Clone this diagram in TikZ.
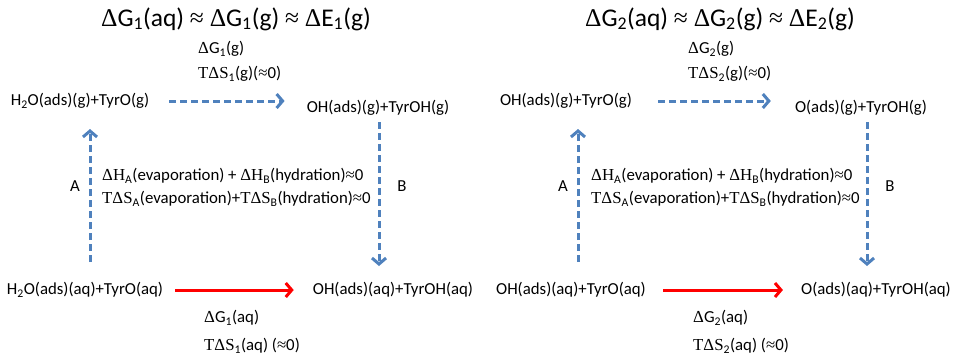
\documentclass[tikz,border=0pt]{standalone}
\usepackage{fontspec}
\setmainfont{Carlito}
\newfontfamily\serf{Liberation Serif}
\usetikzlibrary{arrows.meta}
\newcommand{\Dl}{{\serf Δ}}
\newcommand{\apx}{{\serf ≈}}
\newcommand{\sbs}[1]{\textsubscript{#1}}
\definecolor{myblue}{RGB}{79,129,189}
\tikzset{
  txt/.style={inner sep=0pt, font=\fontsize{16.8}{19}\selectfont},
  ttl/.style={inner sep=0pt, font=\fontsize{25.5}{30}\selectfont},
  gasarrow/.style={draw=myblue, line width=3pt, dash pattern=on 7pt off 4pt, -{Straight Barb[length=6pt,width=14pt]}},
  aqarrow/.style={draw=red, line width=3pt, -{Straight Barb[length=6pt,width=14pt]}}
}
\begin{document}
\begin{tikzpicture}[x=1pt,y=-1pt]
\useasboundingbox (0,0) rectangle (960,360);
% ---------- left panel ----------
\node[ttl] (t1) at (236,19) {\Dl G\sbs{1}(aq) \apx{} \Dl G\sbs{1}(g) \apx{} \Dl E\sbs{1}(g)};
\node[txt,anchor=west] (g1) at (198,49) {\Dl G\sbs{1}(g)};
\node[txt,anchor=west] (s1) at (198,74) {{\serf TΔS}\sbs{1}(g)(\apx 0)};
\node[txt] (tl) at (80,101) {H\sbs{2}O(ads)(g)+TyrO(g)};
\node[txt] (tr) at (378,108) {OH(ads)(g)+TyrOH(g)};
\node[txt] (la) at (75,186) {A};
\node[txt] (lb) at (402,186) {B};
\node[txt,anchor=west] (h1) at (102,176) {{\serf ΔH}\sbs{A}(evaporation) + {\serf ΔH}\sbs{B}(hydration)\apx 0};
\node[txt,anchor=west] (e1) at (102,199) {{\serf TΔS}\sbs{A}(evaporation)+{\serf TΔS}\sbs{B}(hydration)\apx 0};
\node[txt] (bl) at (85,290) {H\sbs{2}O(ads)(aq)+TyrO(aq)};
\node[txt] (br) at (393,290) {OH(ads)(aq)+TyrOH(aq)};
\node[txt,anchor=west] (q1) at (204,318) {\Dl G\sbs{1}(aq)};
\node[txt,anchor=west] (r1) at (204,346) {{\serf TΔS}\sbs{1}(aq) (\apx 0)};
\coordinate (a1s) at (90,262);
\coordinate (a1e) at (90,129);
\coordinate (b1s) at (379,122);
\coordinate (b1e) at (379,266);
\draw[gasarrow] (a1s) -- (a1e);
\draw[gasarrow] (b1s) -- (b1e);
\draw[gasarrow, shorten <=20pt, shorten >=22pt] (tl.east) -- (tl.east -| tr.west);
\draw[aqarrow, shorten <=12pt, shorten >=19pt] (bl.east) -- (br.west);
% ---------- right panel ----------
\node[ttl] (t2) at (720,19) {\Dl G\sbs{2}(aq) \apx{} \Dl G\sbs{2}(g) \apx{} \Dl E\sbs{2}(g)};
\node[txt,anchor=west] (g2) at (688,49) {\Dl G\sbs{2}(g)};
\node[txt,anchor=west] (s2) at (688,74) {{\serf TΔS}\sbs{2}(g)(\apx 0)};
\node[txt] (tl2) at (566,101) {OH(ads)(g)+TyrO(g)};
\node[txt] (tr2) at (861,108) {O(ads)(g)+TyrOH(g)};
\node[txt] (la2) at (563,186) {A};
\node[txt] (lb2) at (890,186) {B};
\node[txt,anchor=west] (h2) at (591,176) {{\serf ΔH}\sbs{A}(evaporation) + {\serf ΔH}\sbs{B}(hydration)\apx 0};
\node[txt,anchor=west] (e2) at (591,199) {{\serf TΔS}\sbs{A}(evaporation)+{\serf TΔS}\sbs{B}(hydration)\apx 0};
\node[txt] (bl2) at (571,290) {OH(ads)(aq)+TyrO(aq)};
\node[txt] (br2) at (876,290) {O(ads)(aq)+TyrOH(aq)};
\node[txt,anchor=west] (q2) at (693,318) {\Dl G\sbs{2}(aq)};
\node[txt,anchor=west] (r2) at (693,346) {{\serf TΔS}\sbs{2}(aq) (\apx 0)};
\coordinate (a2s) at (578,262);
\coordinate (a2e) at (578,129);
\coordinate (b2s) at (867,122);
\coordinate (b2e) at (867,266);
\draw[gasarrow] (a2s) -- (a2e);
\draw[gasarrow] (b2s) -- (b2e);
\draw[gasarrow, shorten <=26pt, shorten >=24pt] (tl2.east) -- (tl2.east -| tr2.west);
\draw[aqarrow, shorten <=17pt, shorten >=18pt] (bl2.east) -- (br2.west);
\end{tikzpicture}
\end{document}
